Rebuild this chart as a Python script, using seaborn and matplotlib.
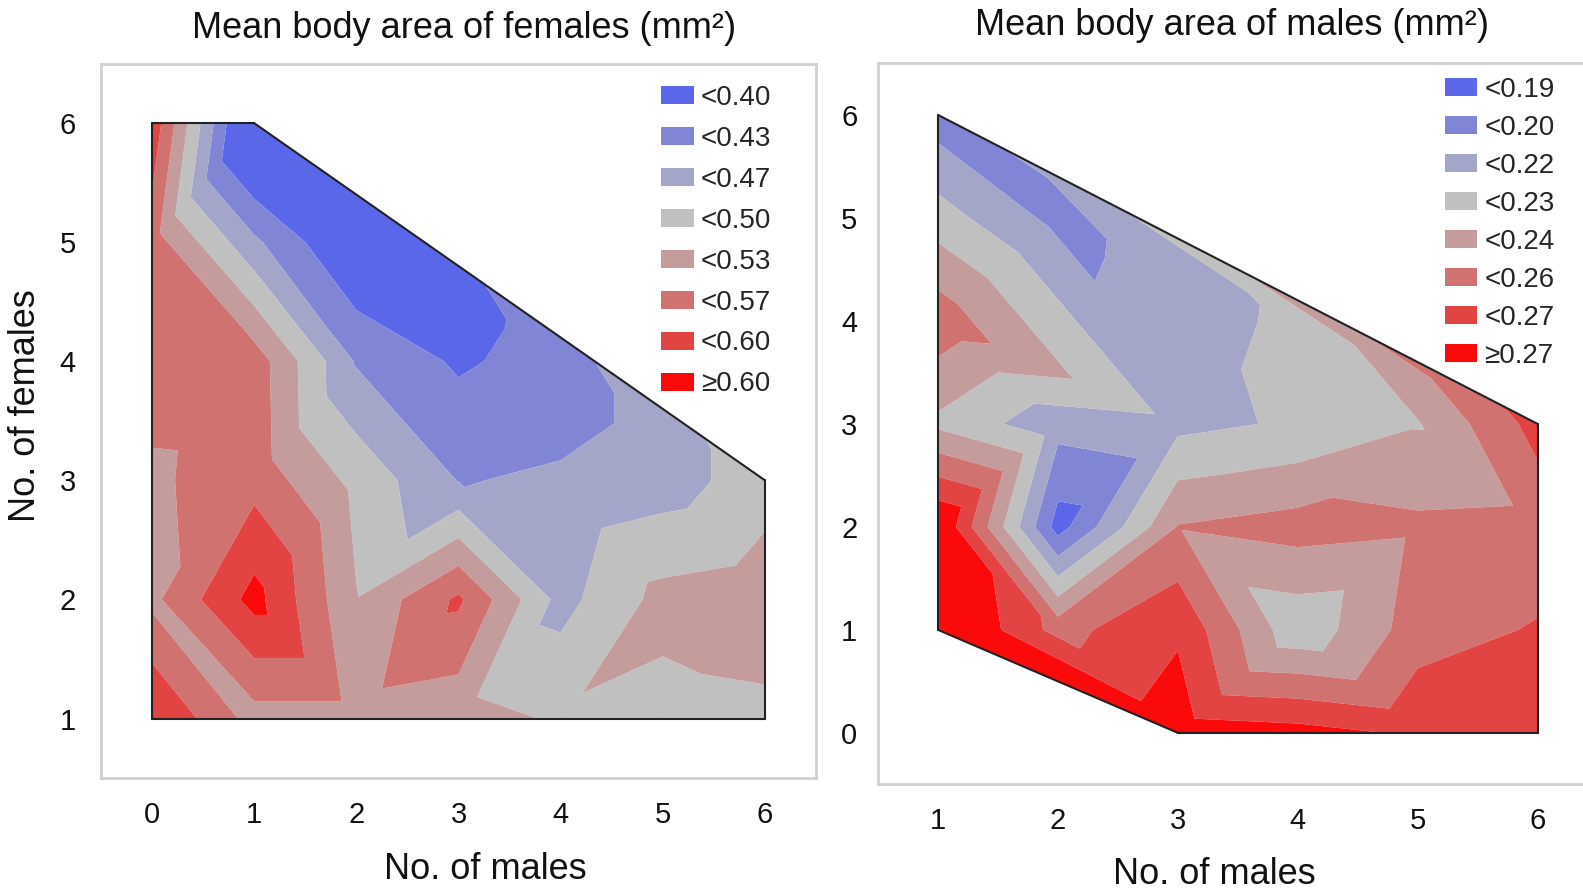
import numpy as np
import matplotlib
matplotlib.use("Agg")
import matplotlib.pyplot as plt
import matplotlib.tri as mtri
from matplotlib.patches import Patch
import seaborn as sns

# ---------------- data ----------------
# Females panel: (no. of males, no. of females) -> mean body area of females (mm2)
fem_males = [0, 1,
             0, 1, 2,
             0, 1, 2, 3, 4,
             0, 1, 2, 3, 4, 5, 6,
             0, 1, 2, 3, 4, 5, 6,
             0, 1, 2, 3, 4, 5, 6]
fem_females = [6, 6,
               5, 5, 5,
               4, 4, 4, 4, 4,
               3, 3, 3, 3, 3, 3, 3,
               2, 2, 2, 2, 2, 2, 2,
               1, 1, 1, 1, 1, 1, 1]
fem_area = [0.59, 0.33,
            0.55, 0.44, 0.36,
            0.55, 0.552, 0.43, 0.395, 0.415,
            0.527, 0.555, 0.49, 0.432, 0.437, 0.45, 0.485,
            0.525, 0.612, 0.5015, 0.573, 0.455, 0.511, 0.52,
            0.603, 0.52, 0.52, 0.51, 0.497, 0.488, 0.492]

# Males panel: (no. of males, no. of females) -> mean body area of males (mm2)
mal_males = [1, 1, 1, 1, 1, 1,
             2, 2, 2, 2,
             3, 3, 3, 3, 3,
             4, 4, 4, 4, 4,
             5, 5, 5, 5,
             6, 6, 6, 6]
mal_females = [1, 2, 3, 4, 5, 6,
               1, 2, 3, 5,
               0, 1, 2, 3, 4,
               0, 1, 2, 3, 4,
               0, 1, 2, 3,
               0, 1, 2, 3]
mal_area = [0.29, 0.285, 0.227, 0.252, 0.223, 0.196,
            0.252, 0.184, 0.208, 0.199,
            0.278, 0.268, 0.244, 0.213, 0.21,
            0.275, 0.22, 0.249, 0.2185, 0.22,
            0.268, 0.25, 0.246, 0.229,
            0.265, 0.258, 0.247, 0.262]

fem_breaks = [0.40, 0.4333, 0.4667, 0.50, 0.5333, 0.5667, 0.60]
fem_labels = ["<0.40", "<0.43", "<0.47", "<0.50", "<0.53", "<0.57", "<0.60", "\u22650.60"]
mal_breaks = [0.19, 0.2033, 0.2167, 0.23, 0.2433, 0.2567, 0.27]
mal_labels = ["<0.19", "<0.20", "<0.22", "<0.23", "<0.24", "<0.26", "<0.27", "\u22650.27"]

band_colors = ["#5a67e8", "#8085d6", "#a3a6c8", "#c0c0c0",
               "#c59c9c", "#d07270", "#e24343", "#fa0a0a"]

titles = ["Mean body area of females (mm\u00b2)", "Mean body area of males (mm\u00b2)"]

# split direction of grid cells (lower-left corner, "/" or "\\")
fem_cells = [(0, 1, "\\"), (0, 2, "/"), (1, 1, "\\"), (1, 2, "/"), (2, 1, "/"), (4, 1, "/")]
mal_cells = [(1, 1, "\\"), (1, 2, "/"), (2, 1, "/"), (2, 2, "/"),
             (3, 1, "\\"), (4, 1, "/"), (3, 0, "/"), (4, 0, "\\")]
# triangles used where the grid has a gap (no group with 2 males and 4 females)
mal_gap = [[(1, 4), (1, 5), (2, 5)], [(1, 4), (2, 5), (3, 3)], [(2, 5), (3, 4), (3, 3)],
           [(1, 4), (3, 3), (2, 3)], [(1, 4), (2, 3), (1, 3)]]
fem_gap = []

# ---------------- style ----------------
sns.set_theme(style="white")
plt.rcParams["font.family"] = ["Liberation Sans", "DejaVu Sans"]

fig = plt.figure(figsize=(15.83, 8.9), dpi=100)
ax1 = fig.add_axes([0.0638, 0.1258, 0.4517, 0.8027])
ax2 = fig.add_axes([0.5547, 0.1187, 0.4545, 0.81])


def tri_area_sum(xs, ys, tris):
    t = np.asarray(tris)
    x0, y0 = xs[t[:, 0]], ys[t[:, 0]]
    x1, y1 = xs[t[:, 1]], ys[t[:, 1]]
    x2, y2 = xs[t[:, 2]], ys[t[:, 2]]
    return np.abs((x1 - x0) * (y2 - y0) - (x2 - x0) * (y1 - y0)).sum() / 2


def build_tri(xs, ys, cells, gap):
    base = mtri.Triangulation(xs, ys)
    tris = [tuple(int(v) for v in t) for t in base.triangles]
    total = tri_area_sum(xs, ys, tris)
    index = {(int(round(x)), int(round(y))): i for i, (x, y) in enumerate(zip(xs, ys))}
    if gap:
        new = [tuple(index[p] for p in t) for t in gap]
        group = set(v for t in new for v in t)
        trial = [t for t in tris if not set(t) <= group] + new
        if abs(tri_area_sum(xs, ys, trial) - total) < 1e-9:
            tris = trial
    for cx, cy, kind in cells:
        ll, lr = index[(cx, cy)], index[(cx + 1, cy)]
        ul, ur = index[(cx, cy + 1)], index[(cx + 1, cy + 1)]
        quad = {ll, lr, ul, ur}
        inside = [t for t in tris if set(t) <= quad]
        if len(inside) != 2:
            continue
        tris = [t for t in tris if not set(t) <= quad]
        if kind == "/":
            tris += [(ll, lr, ur), (ll, ur, ul)]
        else:
            tris += [(ll, lr, ul), (lr, ur, ul)]
    return mtri.Triangulation(xs, ys, triangles=np.array(tris))


def draw(ax, xs, ys, zs, cells, gap, breaks, labels, xlim, ylim, xticks, yticks, title,
         title_pad, title_x, leg_anchor, leg_spacing, xpad, ypad, xlab_pos):
    xs = np.asarray(xs, float)
    ys = np.asarray(ys, float)
    zs = np.asarray(zs, float)
    tri = build_tri(xs, ys, cells, gap)
    levels = [-1.0] + list(breaks) + [2.0]
    ax.tricontourf(tri, zs, levels=levels, colors=band_colors, antialiased=True)
    nb = tri.neighbors
    for t in range(len(tri.triangles)):
        for k in range(3):
            if nb[t, k] == -1:
                a = tri.triangles[t, k]
                b = tri.triangles[t, (k + 1) % 3]
                ax.plot([xs[a], xs[b]], [ys[a], ys[b]], color="#222222", lw=1.5,
                        solid_capstyle="round", zorder=5)
    ax.set_xlim(*xlim)
    ax.set_ylim(*ylim)
    ax.set_xticks(xticks)
    ax.set_yticks(yticks)
    ax.tick_params(axis="both", which="major", length=12, width=2, color="#cccccc",
                   labelsize=21, labelcolor="#111111", direction="out")
    ax.tick_params(axis="x", pad=xpad)
    ax.tick_params(axis="y", pad=ypad)
    for s in ax.spines.values():
        s.set_color("#d0d0d0")
        s.set_linewidth(2)
    ax.set_title(title, fontsize=26, pad=title_pad, x=title_x, color="#111111")
    ax.set_xlabel("No. of males", fontsize=26, color="#111111")
    ax.xaxis.label.set_va("center")
    ax.xaxis.set_label_coords(*xlab_pos)
    handles = [Patch(facecolor=c, edgecolor="none") for c in band_colors]
    ax.legend(handles, labels, loc="upper left", bbox_to_anchor=leg_anchor,
              frameon=False, fontsize=20, handlelength=1.17, handleheight=0.62,
              handletextpad=0.25, labelspacing=leg_spacing, borderpad=0,
              borderaxespad=0)


draw(ax1, fem_males, fem_females, fem_area, fem_cells, fem_gap, fem_breaks, fem_labels,
     (-0.5, 6.5), (0.5, 6.5), range(0, 7), range(1, 7), titles[0], 18.5, 0.508,
     (0.7835, 0.970), 0.536, 4.8, 6, (0.537, -0.1274))
draw(ax2, mal_males, mal_females, mal_area, mal_cells, mal_gap, mal_breaks, mal_labels,
     (0.5, 6.5), (-0.5, 6.5), range(1, 7), range(0, 7), titles[1], 20.5, 0.4916,
     (0.7876, 0.981), 0.43, 4.3, 3, (0.467, -0.1244))
ax1.set_ylabel("No. of females", fontsize=26, color="#111111")
ax1.yaxis.label.set_va("center")
ax1.yaxis.set_label_coords(-0.106, 0.521)

fig.savefig("out.png", dpi=100)
